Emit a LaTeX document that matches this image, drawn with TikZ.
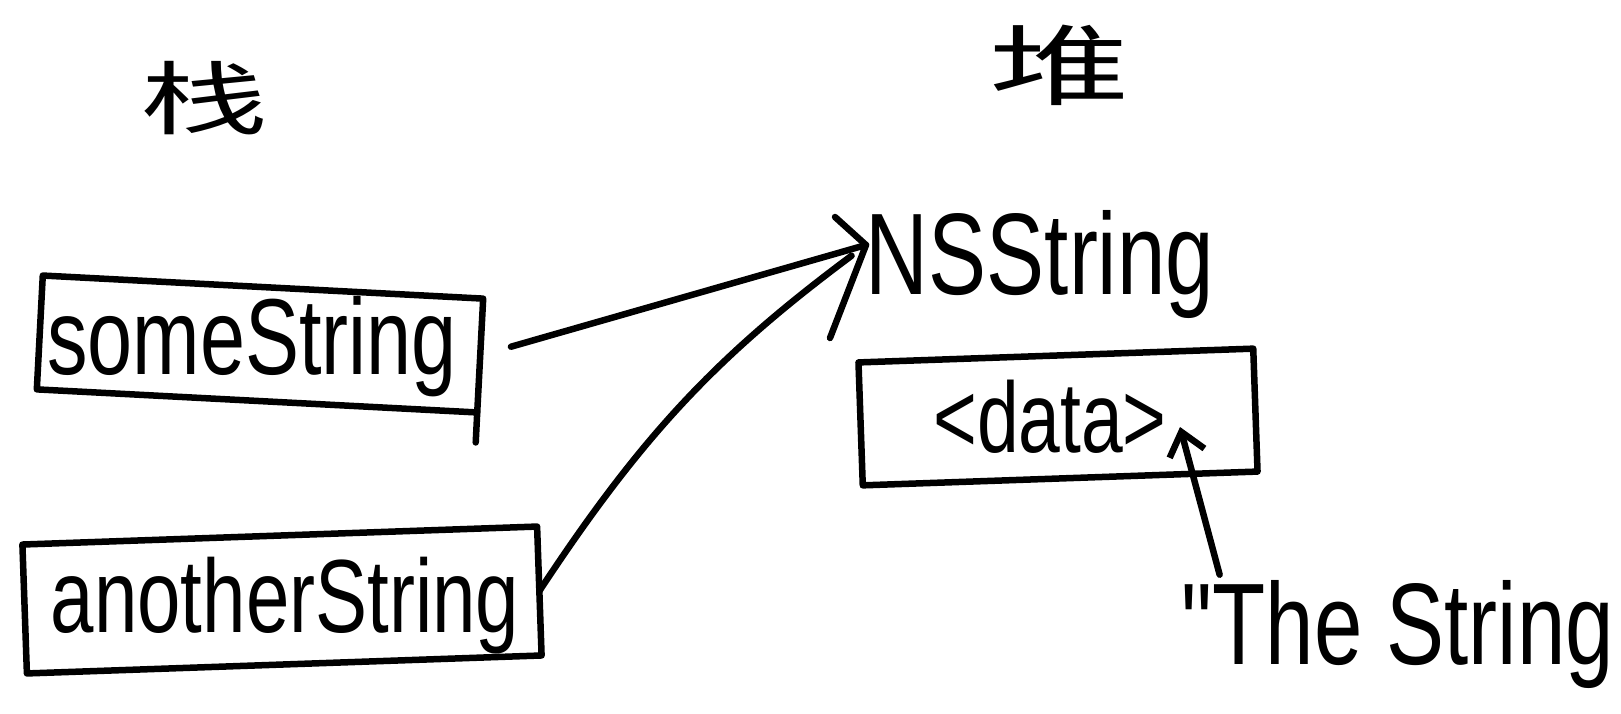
\documentclass[tikz,border=0pt]{standalone}
\usepackage{fontspec}
\newfontfamily\hand[FakeStretch=0.75]{Liberation Sans}
\newfontfamily\cjk[FakeStretch=1.6]{Noto Sans CJK SC}
\usetikzlibrary{arrows.meta}
\begin{document}
\begin{tikzpicture}[x=1pt,y=1pt, line width=6.5pt, line cap=round, line join=round,
  box/.style={draw, line width=6.5pt, inner sep=0pt, outer sep=0pt},
  lbl/.style={inner sep=3pt},
  small/.style={-{Straight Barb[length=22pt,width=36pt]}}]
\useasboundingbox (0,0) rectangle (1621,713);
\node[lbl, font=\cjk\fontsize{80}{90}\selectfont] (zhan) at (204,615) {栈};
\node[lbl, font=\cjk\fontsize{88}{96}\selectfont] (dui) at (1060,648) {堆};
\node[box, minimum width=441pt, minimum height=114pt, rotate=-3] (boxA) at (260,369) {};
\draw (boxA.south east) -- ++(-1.5,-30);
\node[lbl, font=\hand\fontsize{108}{120}\selectfont] (someStr) at (252,366) {someString};
\node[box, minimum width=515pt, minimum height=129pt, rotate=2] (boxB) at (282,113) {};
\node[lbl, font=\hand\fontsize{104}{116}\selectfont] (anotherStr) at (285,107) {anotherString};
\node[lbl, font=\hand\fontsize{116}{128}\selectfont] (nsStr) at (1040,448) {NSString};
\node[box, minimum width=395pt, minimum height=123pt, rotate=2] (boxC) at (1058,296) {};
\node[lbl, font=\hand\fontsize{100}{110}\selectfont] (dataTxt) at (1050,296) {<data>};
\node[lbl, font=\hand\fontsize{116}{128}\selectfont] (theStr) at (1398,78) {"The String};
\coordinate (tip) at (866,468);
\coordinate (barbU) at (835,496);
\coordinate (barbL) at (830,375);
\coordinate (dtip) at (1180,286);
\draw[shorten <=32pt] (boxA.east) -- (tip);
\draw[shorten >=18pt] (boxB.east) to[bend left=10] (tip);
\draw (barbU) -- (tip) -- (barbL);
\draw[small] ([xshift=44pt]theStr.north west) -- (dtip);
\end{tikzpicture}
\end{document}
